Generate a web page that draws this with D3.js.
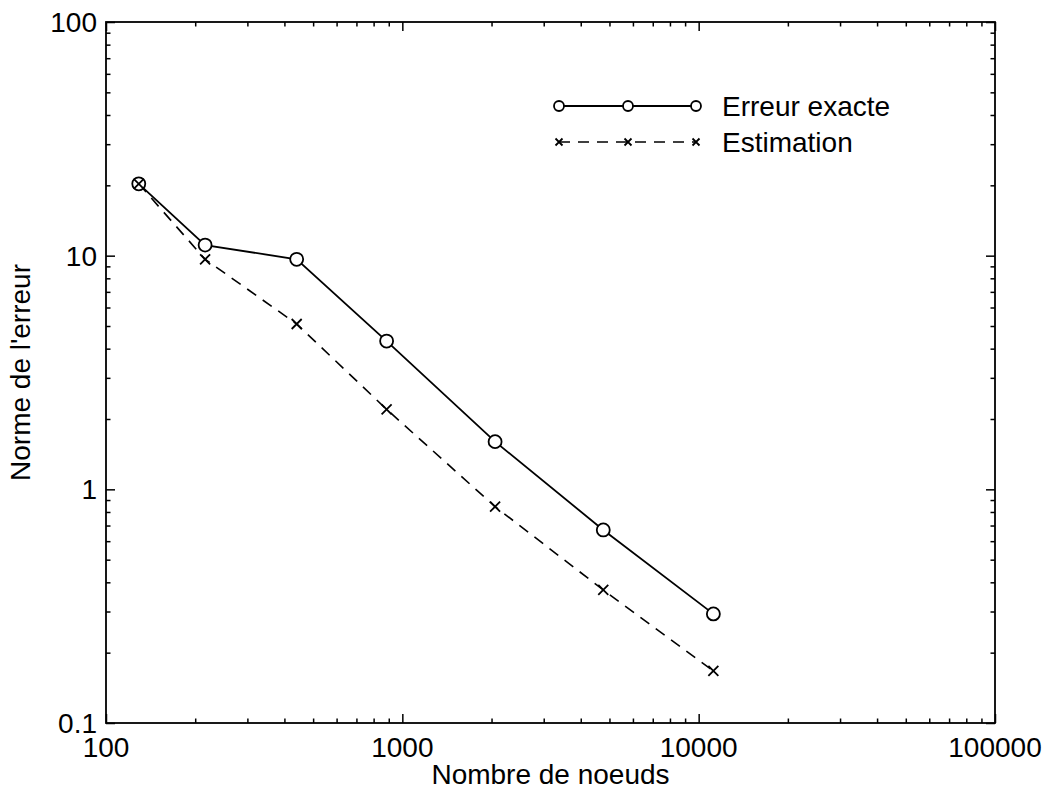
<!DOCTYPE html>
<html>
<head>
<meta charset="utf-8">
<script src="https://cdn.jsdelivr.net/npm/d3@7"></script>
<style>
  body { margin: 0; background: #fff; }
  text { font-family: "Liberation Sans", Helvetica, Arial, sans-serif; fill: #000; }
</style>
</head>
<body>
<svg id="chart" width="1048" height="792"></svg>
<script>
// data
var nodes = [129, 216, 440, 885, 2056, 4765, 11210];
var exacte = [20.3, 11.1, 9.65, 4.31, 1.60, 0.670, 0.293];
var estimation = [20.3, 9.65, 5.10, 2.20, 0.843, 0.371, 0.167];
var xTicks = [100, 1000, 10000, 100000];
var yTicks = [0.1, 1, 10, 100];
var seriesNames = ["Erreur exacte", "Estimation"];

var margin = {top: 22, right: 53, bottom: 69, left: 106},
    width = 1048 - margin.left - margin.right,
    height = 792 - margin.top - margin.bottom;

var svg = d3.select("#chart")
  .append("g")
    .attr("transform", "translate(" + margin.left + "," + margin.top + ")");

var x = d3.scaleLog().domain([100, 100000]).range([0, width]);
var y = d3.scaleLog().domain([0.1, 100]).range([height, 0]);

var fmt = function(d) { return String(+d.toPrecision(6)); };

// minor ticks = all log ticks that are not decades
var xMinor = x.ticks().filter(function(d) { return xTicks.indexOf(d) < 0; });
var yMinor = y.ticks().filter(function(d) { return yTicks.map(String).indexOf(fmt(d)) < 0; });

function drawAxis(axis, tr, size, values) {
  var g = svg.append("g")
    .attr("transform", tr)
    .call(axis.tickValues(values).tickSize(size).tickFormat(""));
  g.select(".domain").remove();
  g.selectAll(".tick line").attr("stroke", "#000").attr("stroke-width", 1.5);
  return g;
}

// ticks point inwards on all four sides
drawAxis(d3.axisBottom(x), "translate(0," + height + ")", -9, xTicks);
drawAxis(d3.axisBottom(x), "translate(0," + height + ")", -4.5, xMinor);
drawAxis(d3.axisTop(x), "translate(0,0)", -9, xTicks);
drawAxis(d3.axisTop(x), "translate(0,0)", -4.5, xMinor);
drawAxis(d3.axisLeft(y), "translate(0,0)", -9, yTicks);
drawAxis(d3.axisLeft(y), "translate(0,0)", -4.5, yMinor);
drawAxis(d3.axisRight(y), "translate(" + width + ",0)", -9, yTicks);
drawAxis(d3.axisRight(y), "translate(" + width + ",0)", -4.5, yMinor);

// frame
svg.append("rect")
  .attr("width", width)
  .attr("height", height)
  .attr("fill", "none")
  .attr("stroke", "#000")
  .attr("stroke-width", 1.8);

// tick labels
svg.selectAll(".xlab")
  .data(xTicks)
  .enter().append("text")
    .attr("x", function(d) { return x(d); })
    .attr("y", height + 34)
    .attr("text-anchor", "middle")
    .style("font-size", "28px")
    .text(fmt);

svg.selectAll(".ylab")
  .data(yTicks)
  .enter().append("text")
    .attr("x", -9)
    .attr("y", function(d) { return y(d) + 10; })
    .attr("text-anchor", "end")
    .style("font-size", "28px")
    .text(fmt);

// axis titles
svg.append("text")
  .attr("x", width / 2)
  .attr("y", height + 61)
  .attr("text-anchor", "middle")
  .style("font-size", "28px")
  .text("Nombre de noeuds");

svg.append("text")
  .attr("transform", "translate(-76," + (height / 2) + ") rotate(-90)")
  .attr("text-anchor", "middle")
  .style("font-size", "28px")
  .text("Norme de l'erreur");

// lines
var line = d3.line()
  .x(function(d) { return x(d[0]); })
  .y(function(d) { return y(d[1]); });

var exData = nodes.map(function(n, i) { return [n, exacte[i]]; });
var esData = nodes.map(function(n, i) { return [n, estimation[i]]; });

svg.append("path")
  .datum(esData)
  .attr("d", line)
  .attr("fill", "none")
  .attr("stroke", "#000")
  .attr("stroke-width", 1.6)
  .attr("stroke-dasharray", "11,8");

svg.append("path")
  .datum(exData)
  .attr("d", line)
  .attr("fill", "none")
  .attr("stroke", "#000")
  .attr("stroke-width", 1.8);

svg.selectAll(".circ")
  .data(exData)
  .enter().append("circle")
    .attr("cx", function(d) { return x(d[0]); })
    .attr("cy", function(d) { return y(d[1]); })
    .attr("r", 6.5)
    .attr("fill", "#fff")
    .attr("stroke", "#000")
    .attr("stroke-width", 1.8);

function cross(sel, s) {
  sel.append("path")
    .attr("d", "M" + (-s) + "," + (-s) + "L" + s + "," + s + "M" + (-s) + "," + s + "L" + s + "," + (-s))
    .attr("fill", "none")
    .attr("stroke", "#000")
    .attr("stroke-width", 1.8);
}

svg.selectAll(".cross")
  .data(esData)
  .enter().append("g")
    .attr("transform", function(d) { return "translate(" + x(d[0]) + "," + y(d[1]) + ")"; })
    .call(cross, 5);

// legend
var legX = [453, 522, 590];
var legY = [84, 120];

svg.append("line")
  .attr("x1", legX[0]).attr("x2", legX[2])
  .attr("y1", legY[0]).attr("y2", legY[0])
  .attr("stroke", "#000").attr("stroke-width", 1.8);

svg.selectAll(".legc")
  .data(legX)
  .enter().append("circle")
    .attr("cx", function(d) { return d; })
    .attr("cy", legY[0])
    .attr("r", 5)
    .attr("fill", "#fff")
    .attr("stroke", "#000")
    .attr("stroke-width", 1.8);

svg.append("line")
  .attr("x1", legX[0]).attr("x2", legX[2])
  .attr("y1", legY[1]).attr("y2", legY[1])
  .attr("stroke", "#000").attr("stroke-width", 1.6)
  .attr("stroke-dasharray", "11,8");

svg.selectAll(".legx")
  .data(legX)
  .enter().append("g")
    .attr("transform", function(d) { return "translate(" + d + "," + legY[1] + ")"; })
    .call(cross, 3.5);

svg.selectAll(".legt")
  .data(seriesNames)
  .enter().append("text")
    .attr("x", 616)
    .attr("y", function(d, i) { return legY[i] + 10; })
    .style("font-size", "28px")
    .text(function(d) { return d; });
</script>
</body>
</html>
